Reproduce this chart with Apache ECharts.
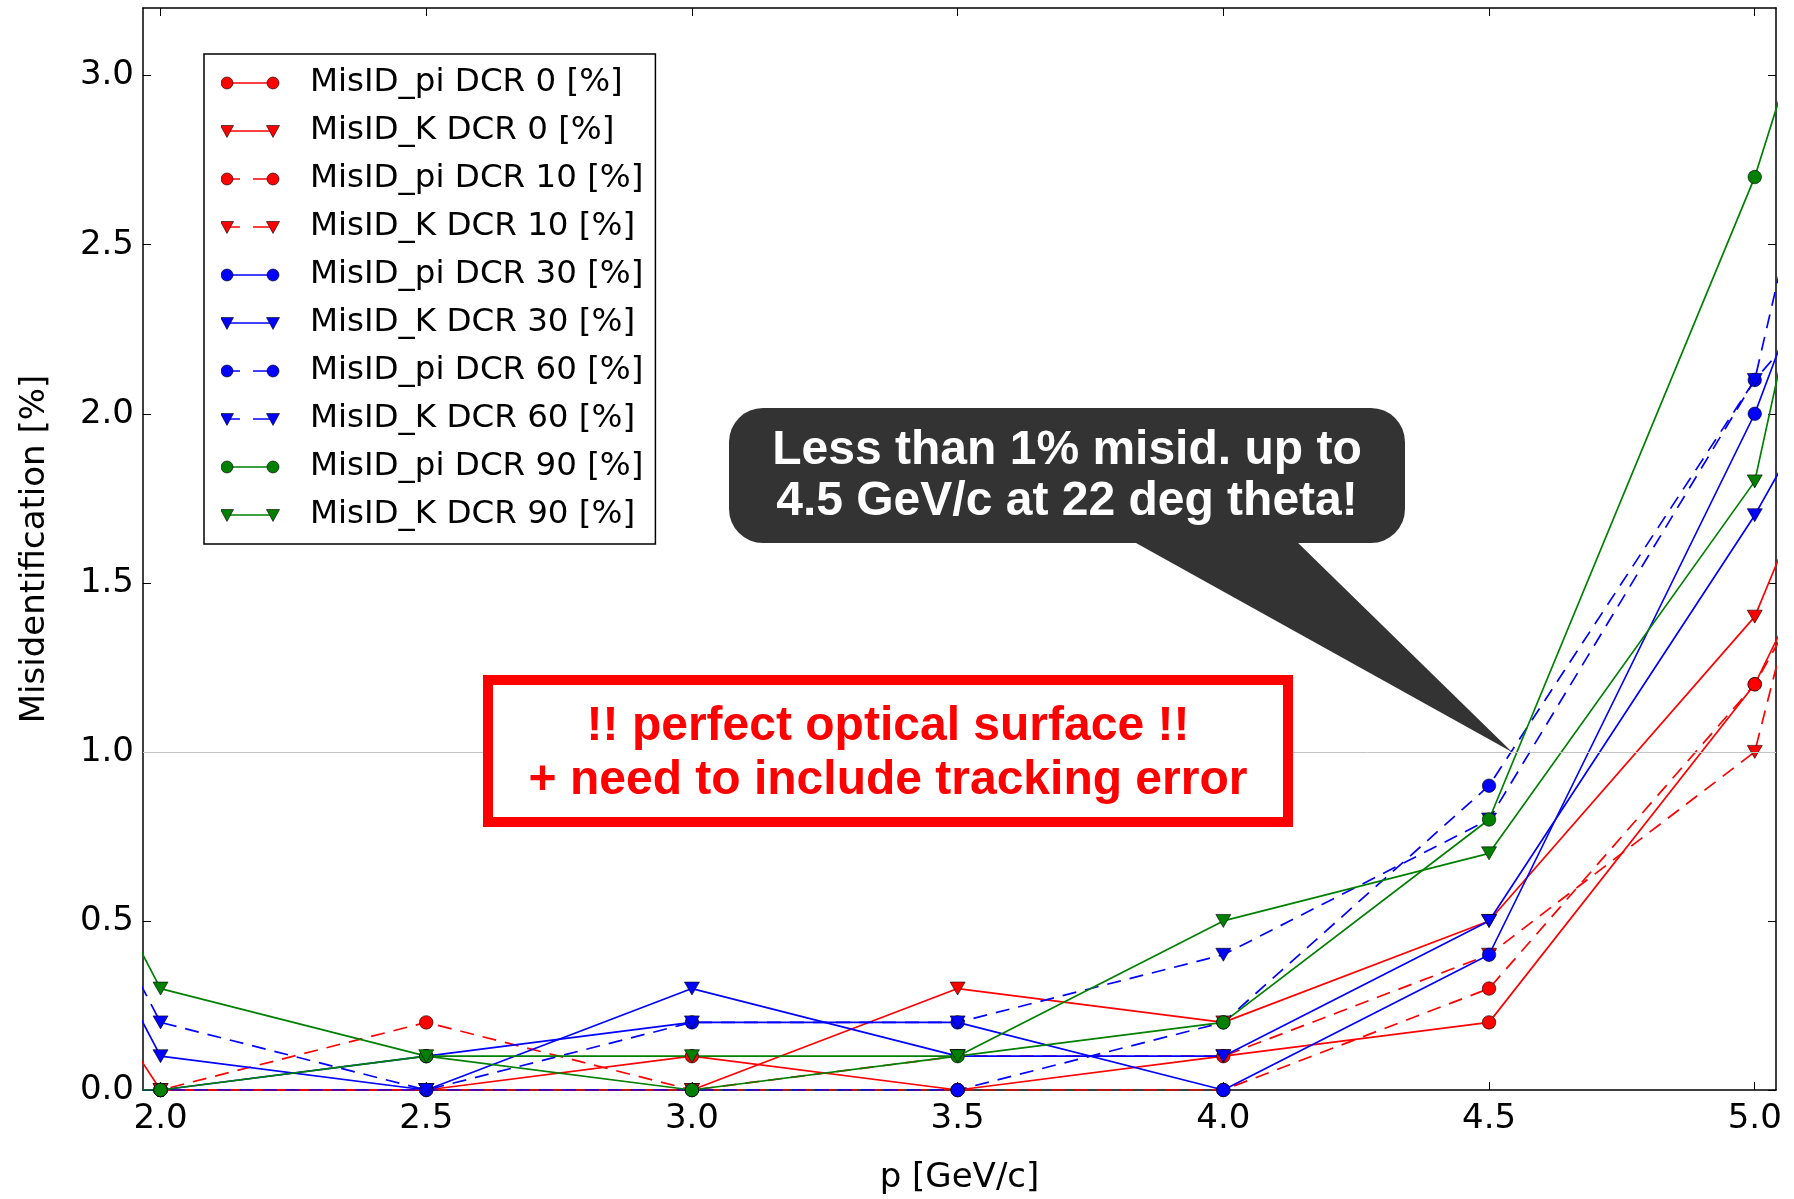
<!DOCTYPE html>
<html><head><meta charset="utf-8">
<script src="https://cdn.jsdelivr.net/npm/echarts@6/dist/echarts.min.js"></script>
<style>html,body{margin:0;padding:0;background:#fff}#c{width:1794px;height:1199px}</style>
</head><body><div id="c"></div>
<script>
// ---- data (1.5 and 5.5 are off-axis points whose segments are clipped) ----
const pValues      = [1.5, 2.0, 2.5, 3.0, 3.5, 4.0, 4.5, 5.0, 5.5];
const misIdPiDCR0  = [0,   0,   0,   0.1, 0,   0.1, 0.2, 1.2, 2.8];
const misIdKDCR0   = [1.2, 0,   0,   0,   0.3, 0.2, 0.5, 1.4, 3.3];
const misIdPiDCR10 = [0,   0,   0.2, 0,   0,   0,   0.3, 1.2, 2.6];
const misIdKDCR10  = [0,   0,   0,   0,   0.1, 0.1, 0.4, 1.0, 4.1];
const misIdPiDCR30 = [0,   0,   0.1, 0.2, 0.2, 0,   0.4, 2.0, 4.1];
const misIdKDCR30  = [1.6, 0.1, 0,   0.3, 0.1, 0.1, 0.5, 1.7, 3.1];
const misIdPiDCR60 = [0,   0,   0,   0,   0,   0.2, 0.9, 2.1, 5.5];
const misIdKDCR60  = [1.7, 0.2, 0,   0.2, 0.2, 0.4, 0.8, 2.1, 3.0];
const misIdPiDCR90 = [0,   0,   0.1, 0,   0.1, 0.2, 0.8, 2.7, 5.2];
const misIdKDCR90  = [1.8, 0.3, 0.1, 0.1, 0.1, 0.5, 0.7, 1.8, 5.4];
const seriesNames = ['MisID_pi DCR 0 [%]','MisID_K DCR 0 [%]','MisID_pi DCR 10 [%]','MisID_K DCR 10 [%]',
  'MisID_pi DCR 30 [%]','MisID_K DCR 30 [%]','MisID_pi DCR 60 [%]','MisID_K DCR 60 [%]',
  'MisID_pi DCR 90 [%]','MisID_K DCR 90 [%]'];
const seriesValues = [misIdPiDCR0, misIdKDCR0, misIdPiDCR10, misIdKDCR10, misIdPiDCR30, misIdKDCR30,
  misIdPiDCR60, misIdKDCR60, misIdPiDCR90, misIdKDCR90];
const xTicks = [2.0, 2.5, 3.0, 3.5, 4.0, 4.5, 5.0];
const yTicks = [0.0, 0.5, 1.0, 1.5, 2.0, 2.5, 3.0];
const yGridLines = [1.0];
const calloutLines = ['Less than 1% misid. up to', '4.5 GeV/c at 22 deg theta!'];
const boxLines = ['!! perfect optical surface !!', '+ need to include tracking error'];

// ---- styles ----
const styleColors = ['#ff0000','#ff0000','#ff0000','#ff0000','#0000ff','#0000ff','#0000ff','#0000ff','#008000','#008000'];
const styleMarkers = ['circle','tri','circle','tri','circle','tri','circle','tri','circle','tri'];
const styleDashed = [false,false,true,true,false,false,true,true,false,false];
const FONT = 'DejaVu Sans';
const ICON_W = 84;

function legendIcon(i){
  const c = styleColors[i], y = 7;
  const line = styleDashed[i] ? `M6 ${y}H19M32 ${y}H52` : `M6 ${y}H52`;
  const mk = cx => styleMarkers[i]==='circle'
    ? `<circle cx="${cx}" cy="${y}" r="6" fill="${c}" stroke="#000" stroke-width="0.6"/>`
    : `<polygon points="${cx-6.5},${y-5.5} ${cx+6.5},${y-5.5} ${cx},${y+6.5}" fill="${c}" stroke="#000" stroke-width="0.6"/>`;
  const svg = `<svg xmlns="http://www.w3.org/2000/svg" width="${ICON_W}" height="14" viewBox="0 0 ${ICON_W} 14"><path d="${line}" stroke="${c}" stroke-width="1.6" fill="none"/>${mk(6)}${mk(52)}</svg>`;
  return 'image://data:image/svg+xml;charset=utf-8,' + encodeURIComponent(svg);
}

const series = seriesNames.map((name, i) => {
  const tri = styleMarkers[i] !== 'circle';
  const s = {
    type: 'line', name,
    data: pValues.map((x, k) => [x, seriesValues[i][k]]),
    xAxisIndex: 0, yAxisIndex: 0,
    symbol: tri ? 'triangle' : 'circle',
    symbolRotate: tri ? 180 : 0,
    symbolSize: tri ? [15, 13] : 13.5,
    showSymbol: true, showAllSymbol: true,
    clip: true,
    itemStyle: { color: styleColors[i], borderColor: '#000', borderWidth: 0.6 },
    lineStyle: { color: styleColors[i], width: 1.7, type: styleDashed[i] ? [14, 9] : 'solid' },
    emphasis: { disabled: true },
    animation: false
  };
  if (i === 0) {
    s.markLine = {
      silent: true, symbol: ['none', 'none'], label: { show: false },
      lineStyle: { color: '#c4c4c4', width: 1, type: 'solid' },
      emphasis: { disabled: true }, animation: false,
      data: yGridLines.map(v => ({ yAxis: v }))
    };
  }
  return s;
});

const axisLineStyle = { show: true, onZero: false, lineStyle: { color: '#000', width: 1.5 } };
const tickStyle = (vals) => ({ show: true, inside: true, length: 8, customValues: vals, lineStyle: { color: '#000', width: 1 } });
const xMin = 1.967, xMax = 5.04, yMin = 0, yMax = 3.2;

const chart = echarts.init(document.getElementById('c'), null, { renderer: 'canvas' });
chart.setOption({
  backgroundColor: '#fff',
  animation: false,
  grid: { left: 143, top: 8, right: 18, bottom: 109, containLabel: false, outerBoundsMode: 'none' },
  legend: {
    left: 204, top: 54, orient: 'vertical', selectedMode: false,
    itemWidth: ICON_W, itemHeight: 14, itemGap: 10,
    padding: [10, 12, 10, 17],
    borderColor: '#000', borderWidth: 1.5, backgroundColor: '#fff',
    textStyle: { fontFamily: FONT, fontSize: 32.5, color: '#000', lineHeight: 38 },
    data: seriesNames.map((n, i) => ({ name: n, icon: legendIcon(i) }))
  },
  xAxis: [
    { type: 'value', position: 'bottom', min: xMin, max: xMax,
      name: 'p [GeV/c]', nameLocation: 'middle', nameGap: 71,
      nameTextStyle: { fontFamily: FONT, fontSize: 34, color: '#000' },
      axisLine: axisLineStyle, axisTick: tickStyle(xTicks),
      axisLabel: { customValues: xTicks, formatter: v => v.toFixed(1), fontFamily: FONT, fontSize: 34, color: '#000', margin: 12 },
      splitLine: { show: false } },
    { type: 'value', position: 'top', min: xMin, max: xMax,
      axisLine: axisLineStyle, axisTick: tickStyle(xTicks),
      axisLabel: { show: false }, splitLine: { show: false } }
  ],
  yAxis: [
    { type: 'value', position: 'left', min: yMin, max: yMax,
      name: 'Misidentification [%]', nameLocation: 'middle', nameGap: 91,
      nameTextStyle: { fontFamily: FONT, fontSize: 34, color: '#000' },
      axisLine: axisLineStyle, axisTick: tickStyle(yTicks),
      axisLabel: { customValues: yTicks, formatter: v => v.toFixed(1), fontFamily: FONT, fontSize: 34, color: '#000', margin: 9 },
      splitLine: { show: false } },
    { type: 'value', position: 'right', min: yMin, max: yMax,
      axisLine: axisLineStyle, axisTick: tickStyle(yTicks),
      axisLabel: { show: false }, splitLine: { show: false } }
  ],
  series,
  graphic: [
    { type: 'polygon', z: 100, shape: { points: [[1127, 538], [1293, 538], [1512, 752]] },
      style: { fill: '#333333' } },
    { type: 'rect', z: 100, shape: { x: 729, y: 408, width: 676, height: 135, r: 34 },
      style: { fill: '#333333' } },
    { type: 'text', z: 101, x: 1067, y: 451,
      style: { text: calloutLines[0], fill: '#fff', font: 'bold 48px "Liberation Sans"', textAlign: 'center', textVerticalAlign: 'middle' } },
    { type: 'text', z: 101, x: 1067, y: 502,
      style: { text: calloutLines[1], fill: '#fff', font: 'bold 48px "Liberation Sans"', textAlign: 'center', textVerticalAlign: 'middle' } },
    { type: 'rect', z: 100, shape: { x: 488, y: 680, width: 800, height: 142 },
      style: { fill: '#fff', stroke: '#ff0000', lineWidth: 10 } },
    { type: 'text', z: 101, x: 888, y: 727,
      style: { text: boxLines[0], fill: '#ff0000', font: 'bold 48px "Liberation Sans"', textAlign: 'center', textVerticalAlign: 'middle' } },
    { type: 'text', z: 101, x: 888, y: 781,
      style: { text: boxLines[1], fill: '#ff0000', font: 'bold 48px "Liberation Sans"', textAlign: 'center', textVerticalAlign: 'middle' } }
  ]
});
</script></body></html>
